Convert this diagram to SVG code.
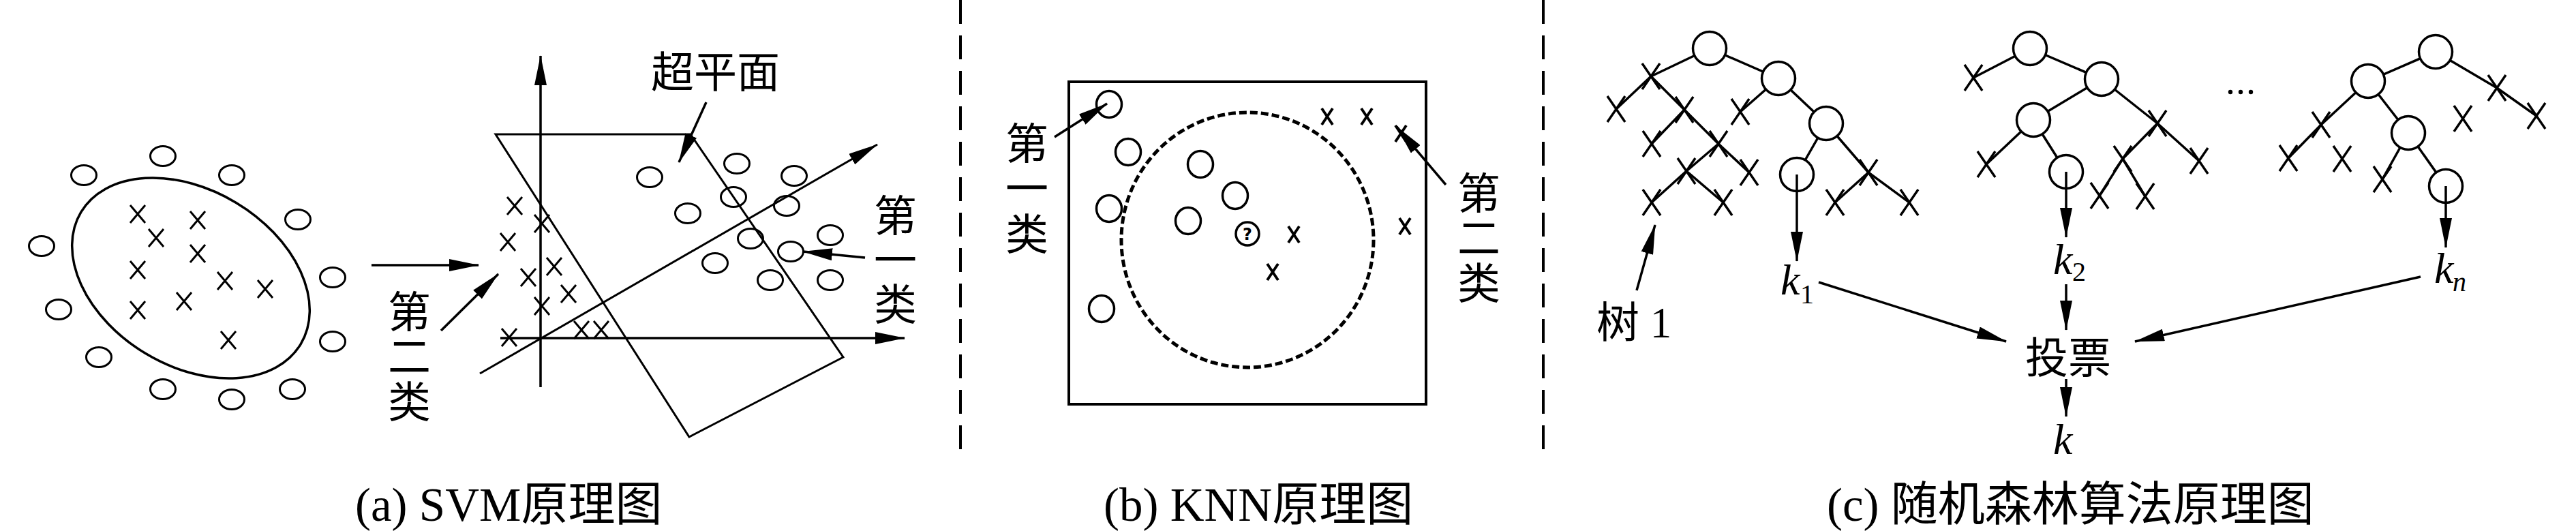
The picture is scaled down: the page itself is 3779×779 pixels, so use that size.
<svg xmlns="http://www.w3.org/2000/svg" xmlns:xlink="http://www.w3.org/1999/xlink" width="3779" height="779" viewBox="0 0 3779 779">
<style>
.ln{stroke:#000;stroke-width:3;fill:none}
.tl{stroke:#000;stroke-width:3.5;fill:none}
.nd{stroke:#000;stroke-width:3.5;fill:#fff}
.ax{stroke:#000;stroke-width:3.5;fill:none}
.ar{stroke:#000;stroke-width:3.5;fill:none;marker-end:url(#ah)}
.div{stroke:#000;stroke-width:4;stroke-dasharray:35 17;fill:none}
.cj{font-family:"Liberation Serif","Noto Sans CJK SC",serif;font-size:63px;fill:#000}
.cap{font-family:"Liberation Serif","Noto Sans CJK SC",serif;font-size:69px;fill:#000}
.it{font-family:"Liberation Serif",serif;font-style:italic;font-size:64px;fill:#000}
.sb{font-family:"Liberation Serif",serif;font-size:40px;fill:#000}
</style>
<defs>
<marker id="ah" markerUnits="userSpaceOnUse" markerWidth="44" markerHeight="18" refX="43" refY="9" orient="auto"><path d="M0,0 L44,9 L0,18 Z" fill="#000"/></marker>
<path id="xa" d="M-11,-13 L11,13 M11,-13 L-11,13" class="ln"/>
<path id="xk" d="M-8,-12 L8,12 M8,-12 L-8,12" style="stroke:#000;stroke-width:4;fill:none"/>
<path id="xt" d="M-13,-19 L13,19 M13,-19 L-13,19" class="tl"/>
<ellipse id="oa" cx="0" cy="0" rx="18.5" ry="14.5" class="ln"/>
<ellipse id="ok" cx="0" cy="0" rx="18.5" ry="19.5" style="stroke:#000;stroke-width:3.5;fill:none"/>
</defs>
<rect width="3779" height="779" fill="#fff"/>

<!-- dividers -->
<g id="dividers">
<line x1="1409" y1="0" x2="1409" y2="672" class="div"/>
<line x1="2264" y1="0" x2="2264" y2="672" class="div"/>
</g>

<!-- Panel (a) SVM -->
<g id="svm-input">
<ellipse cx="280" cy="408" rx="188" ry="129" transform="rotate(31 280 408)" class="ln" style="stroke-width:3.5"/>
<use href="#oa" x="239" y="229"/><use href="#oa" x="123" y="257"/><use href="#oa" x="340" y="257"/>
<use href="#oa" x="437" y="322"/><use href="#oa" x="61" y="361"/><use href="#oa" x="488" y="407"/>
<use href="#oa" x="86" y="454"/><use href="#oa" x="488" y="501"/><use href="#oa" x="145" y="524"/>
<use href="#oa" x="239" y="571"/><use href="#oa" x="429" y="571"/><use href="#oa" x="340" y="586"/>
<use href="#xa" x="202" y="314"/><use href="#xa" x="290" y="323"/><use href="#xa" x="229" y="349"/>
<use href="#xa" x="290" y="372"/><use href="#xa" x="202" y="396"/><use href="#xa" x="330" y="412"/>
<use href="#xa" x="389" y="424"/><use href="#xa" x="270" y="442"/><use href="#xa" x="202" y="455"/>
<use href="#xa" x="335" y="499"/>
</g>
<g id="svm-plot">
<polygon points="727,197 1013,197 1237,524 1011,641" class="ln"/>
<line x1="793" y1="568" x2="793" y2="82" class="ar"/>
<line x1="734" y1="496" x2="1327" y2="496" class="ar"/>
<line x1="704" y1="548" x2="1287" y2="212" class="ar" style="stroke-width:3"/>
<use href="#oa" x="953" y="260"/><use href="#oa" x="1081" y="240"/><use href="#oa" x="1165" y="258"/>
<use href="#oa" x="1076" y="289"/><use href="#oa" x="1009" y="313"/><use href="#oa" x="1154" y="302"/>
<use href="#oa" x="1101" y="350"/><use href="#oa" x="1218" y="345"/><use href="#oa" x="1160" y="369"/>
<use href="#oa" x="1049" y="386"/><use href="#oa" x="1130" y="411"/><use href="#oa" x="1218" y="411"/>
<use href="#xa" x="755" y="302"/><use href="#xa" x="795" y="328"/><use href="#xa" x="745" y="355"/>
<use href="#xa" x="813" y="391"/><use href="#xa" x="775" y="407"/><use href="#xa" x="834" y="431"/>
<use href="#xa" x="795" y="449"/><use href="#xa" x="747" y="495"/><use href="#xa" x="853" y="484"/>
<use href="#xa" x="882" y="484"/>
</g>
<g id="svm-labels">
<text class="cj" x="955" y="128">超平面</text>
<text class="cj" x="569" y="480">第<tspan x="569" y="546">二</tspan><tspan x="569" y="612">类</tspan></text>
<text class="cj" x="1282" y="339">第<tspan x="1282" y="404">一</tspan><tspan x="1282" y="469">类</tspan></text>
<text class="cap" x="521" y="764">(a) SVM原理图</text>
</g>
<g id="svm-connectors">
<line x1="545" y1="389" x2="702" y2="389" class="ar"/>
<line x1="1036" y1="150" x2="996" y2="238" class="ar"/>
<line x1="647" y1="485" x2="731" y2="402" class="ar"/>
<line x1="1269" y1="378" x2="1178" y2="369" class="ar"/>
</g>

<!-- Panel (b) KNN -->
<g id="knn">
<rect x="1568" y="120" width="524" height="473" style="stroke:#000;stroke-width:4;fill:none"/>
<ellipse cx="1830" cy="352" rx="185" ry="187" style="stroke:#000;stroke-width:5;fill:none;stroke-dasharray:11 5"/>
<use href="#ok" x="1627" y="153"/><use href="#ok" x="1655" y="223"/><use href="#ok" x="1761" y="241"/>
<use href="#ok" x="1812" y="287"/><use href="#ok" x="1627" y="306"/><use href="#ok" x="1743" y="324"/>
<use href="#ok" x="1616" y="453"/>
<circle cx="1830" cy="343" r="17" style="stroke:#000;stroke-width:3.5;fill:none"/>
<text x="1830" y="352" text-anchor="middle" style="font-family:'DejaVu Sans',sans-serif;font-size:24px;font-weight:bold">?</text>
<use href="#xk" x="1947" y="171"/><use href="#xk" x="2005" y="171"/><use href="#xk" x="2055" y="196"/>
<use href="#xk" x="2061" y="332"/><use href="#xk" x="1898" y="344"/><use href="#xk" x="1867" y="399"/>
</g>
<g id="knn-labels">
<text class="cj" x="1475" y="233">第<tspan x="1475" y="299">一</tspan><tspan x="1475" y="366">类</tspan></text>
<text class="cj" x="2138" y="306">第<tspan x="2138" y="372">二</tspan><tspan x="2138" y="438">类</tspan></text>
<text class="cap" x="1619" y="764">(b) KNN原理图</text>
</g>
<g id="knn-connectors">
<line x1="1547" y1="201" x2="1624" y2="152" class="ar"/>
<line x1="2121" y1="271" x2="2049" y2="186" class="ar"/>
</g>

<!-- Panel (c) Random forest -->
<g id="tree1">
<path class="tl" d="M2508,71 L2422,112 M2508,71 L2609,115 M2609,115 L2553,164 M2609,115 L2679,181 M2679,181 L2636,256 M2679,181 L2741,253 M2741,253 L2692,297 M2741,253 L2801,297 M2422,112 L2371,160 M2422,112 L2471,161 M2471,161 L2423,211 M2471,161 L2521,211 M2521,211 L2474,251 M2521,211 L2566,253 M2474,251 L2423,297 M2474,251 L2528,297"/>
<circle cx="2508" cy="71" r="24.5" class="nd"/>
<circle cx="2609" cy="115" r="24.5" class="nd"/>
<circle cx="2679" cy="181" r="24.5" class="nd"/>
<circle cx="2636" cy="256" r="24.5" class="nd"/>
<use href="#xt" x="2422" y="112"/><use href="#xt" x="2553" y="164"/><use href="#xt" x="2741" y="253"/>
<use href="#xt" x="2692" y="297"/><use href="#xt" x="2801" y="297"/><use href="#xt" x="2371" y="160"/>
<use href="#xt" x="2471" y="161"/><use href="#xt" x="2423" y="211"/><use href="#xt" x="2521" y="211"/>
<use href="#xt" x="2474" y="251"/><use href="#xt" x="2566" y="253"/><use href="#xt" x="2423" y="297"/>
<use href="#xt" x="2528" y="297"/>
</g>
<g id="tree2">
<path class="tl" d="M2978,71 L2895,114 M2978,71 L3083,116 M3083,116 L2983,176 M3083,116 L3165,181 M2983,176 L2914,241 M2983,176 L3031,252 M3165,181 L3114,233 M3165,181 L3226,236 M3114,233 L3080,287 M3114,233 L3147,288"/>
<circle cx="2978" cy="71" r="24.5" class="nd"/>
<circle cx="3083" cy="116" r="24.5" class="nd"/>
<circle cx="2983" cy="176" r="24.5" class="nd"/>
<circle cx="3031" cy="252" r="24.5" class="nd"/>
<use href="#xt" x="2895" y="114"/><use href="#xt" x="2914" y="241"/><use href="#xt" x="3165" y="181"/>
<use href="#xt" x="3114" y="233"/><use href="#xt" x="3226" y="236"/><use href="#xt" x="3080" y="287"/>
<use href="#xt" x="3147" y="288"/>
</g>
<g id="ellipsis">
<circle cx="3272" cy="135" r="3.2"/><circle cx="3287" cy="135" r="3.2"/><circle cx="3302" cy="135" r="3.2"/>
</g>
<g id="treen">
<path class="tl" d="M3573,76 L3474,119 M3573,76 L3663,129 M3663,129 L3721,170 M3474,119 L3405,183 M3405,183 L3357,232 M3474,119 L3533,195 M3533,195 L3495,263 M3533,195 L3588,273"/>
<circle cx="3573" cy="76" r="24.5" class="nd"/>
<circle cx="3474" cy="119" r="24.5" class="nd"/>
<circle cx="3533" cy="195" r="24.5" class="nd"/>
<circle cx="3588" cy="273" r="24.5" class="nd"/>
<use href="#xt" x="3663" y="129"/><use href="#xt" x="3721" y="170"/><use href="#xt" x="3405" y="183"/>
<use href="#xt" x="3357" y="232"/><use href="#xt" x="3436" y="233"/><use href="#xt" x="3613" y="174"/>
<use href="#xt" x="3495" y="263"/>
</g>
<g id="rf-labels">
<text class="cj" x="2342" y="495">树 1</text>
<text class="it" x="2612" y="432">k</text><text class="sb" x="2641" y="445">1</text>
<text class="it" x="3012" y="402">k</text><text class="sb" x="3040" y="412">2</text>
<text class="it" x="3571" y="415">k</text><text class="sb" x="3598" y="427" font-style="italic">n</text>
<text class="cj" x="2971" y="547">投票</text>
<text class="it" x="3012" y="666">k</text>
<text class="cap" x="2680" y="764">(c) 随机森林算法原理图</text>
</g>
<g id="rf-connectors">
<line x1="2636" y1="256" x2="2636" y2="383" class="ar"/>
<line x1="3031" y1="252" x2="3031" y2="348" class="ar"/>
<line x1="3588" y1="273" x2="3588" y2="363" class="ar"/>
<line x1="2401" y1="426" x2="2428" y2="330" class="ar"/>
<line x1="2668" y1="414" x2="2943" y2="501" class="ar"/>
<line x1="3031" y1="417" x2="3031" y2="484" class="ar"/>
<line x1="3551" y1="406" x2="3132" y2="501" class="ar"/>
<line x1="3031" y1="556" x2="3031" y2="611" class="ar"/>
</g>
</svg>
